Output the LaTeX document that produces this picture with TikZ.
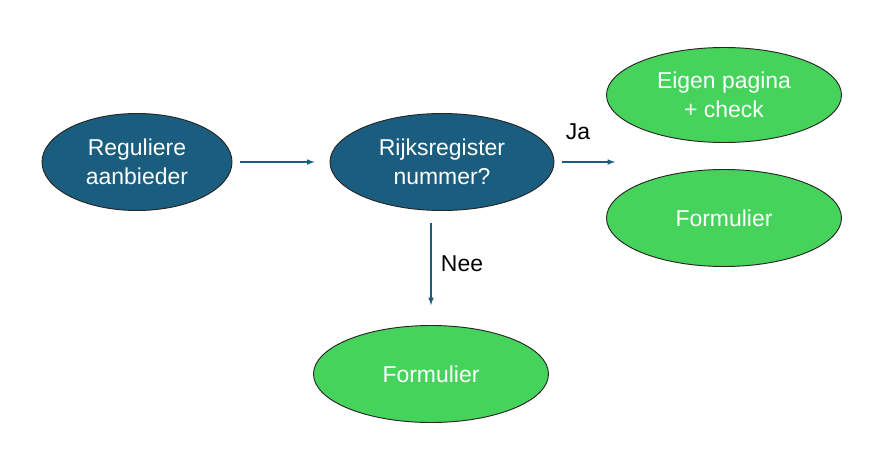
\documentclass[tikz,border=0pt]{standalone}
\usepackage{fontspec}
\setmainfont{Liberation Sans}
\usepackage{tikz}
\usetikzlibrary{shapes.geometric, arrows}

\definecolor{stepblue}{HTML}{1B5D7F}
\definecolor{stepgreen}{HTML}{46D35B}

\begin{document}
\begin{tikzpicture}[
                x=0.75pt, y=-0.75pt,
                every node/.style={font=\fontsize{17.2}{22}\selectfont}, % Default text
                bluebox/.style={ellipse, draw=black!85, line width=0.7pt, fill=stepblue, text=white, align=center, inner sep=0pt}, % Dark ellipse
                greenbox/.style={ellipse, draw=black!85, line width=0.7pt, fill=stepgreen, text=white, align=center, inner sep=0pt}, % Green ellipse
                flow/.style={-latex, draw=stepblue, line width=0.9pt} % Arrows
                ]
                \useasboundingbox (0,0) rectangle (877,453);
                \fill[white] (0,0) rectangle (877,453);
                \node[bluebox, minimum width=190*0.75pt, minimum height=97*0.75pt] (regular) at (137,162) {Reguliere\\aanbieder};
                \node[bluebox, minimum width=224*0.75pt, minimum height=97*0.75pt] (rijks) at (442,162) {Rijksregister\\nummer?};
                \node[greenbox, minimum width=235*0.75pt, minimum height=95*0.75pt] (eigen) at (724,95) {Eigen pagina\\+ check};
                \node[greenbox, minimum width=235*0.75pt, minimum height=97*0.75pt] (formright) at (724,218) {Formulier};
                \node[greenbox, minimum width=235*0.75pt, minimum height=97*0.75pt] (formdown) at (431,374) {Formulier};
                \coordinate (jaend) at (615,162);
                \draw[flow, shorten <=8*0.75pt, shorten >=15*0.75pt] (regular.east) -- (rijks.west);
                \draw[flow, shorten <=8*0.75pt] (rijks.east) -- (jaend);
                \draw[flow, shorten <=12*0.75pt, shorten >=20*0.75pt] (formdown.north |- rijks.south) -- (formdown.north);
                \node (ja) at (578,132) {Ja};
                \node (nee) at (462,264) {Nee};
            \end{tikzpicture}
\end{document}
